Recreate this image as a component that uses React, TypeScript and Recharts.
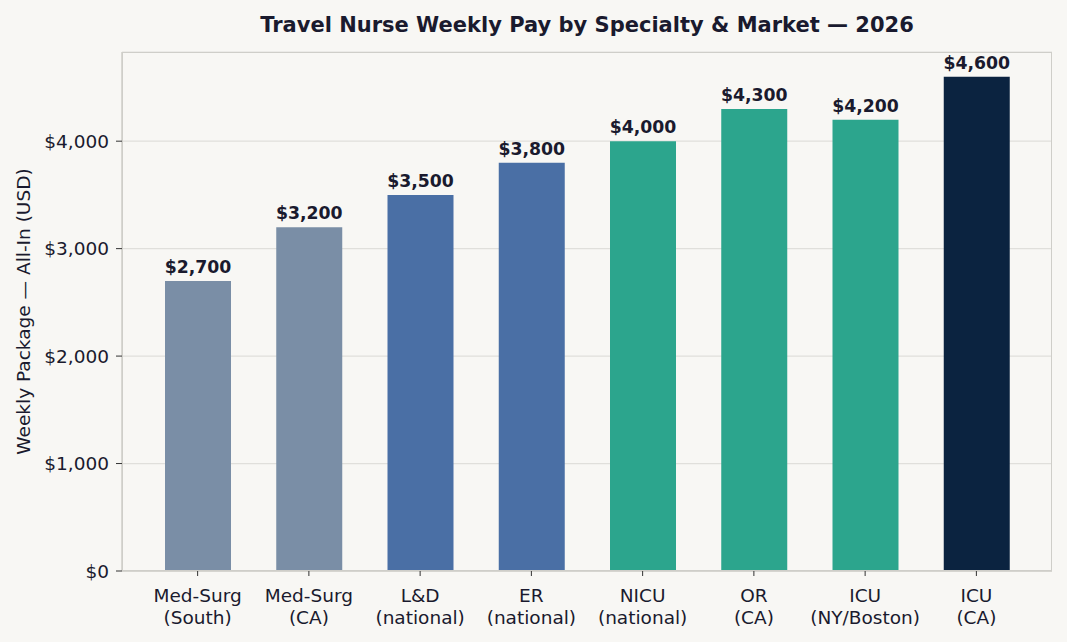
import { BarChart, Bar, XAxis, YAxis, CartesianGrid, Cell, LabelList } from 'recharts';

const specialties = ['Med-Surg', 'Med-Surg', 'L&D', 'ER', 'NICU', 'OR', 'ICU', 'ICU'];
const markets = ['(South)', '(CA)', '(national)', '(national)', '(national)', '(CA)', '(NY/Boston)', '(CA)'];
const weeklyPay = [2700, 3200, 3500, 3800, 4000, 4300, 4200, 4600];
const barColors = ['#7a8ea6', '#7a8ea6', '#4a6fa5', '#4a6fa5', '#2ca58d', '#2ca58d', '#2ca58d', '#0b2340'];
const yTicks = [0, 1000, 2000, 3000, 4000];

const data = weeklyPay.map((pay, i) => ({
  name: `${specialties[i]} ${markets[i]}`,
  pay,
}));

const ink = '#1a1a2e';
const font = 'DejaVu Sans, sans-serif';
const money = (v: number) => '$' + v.toLocaleString('en-US');

const TwoLineTick = (props: any) => {
  const { x, y, payload } = props;
  const i = data.findIndex((d) => d.name === payload.value);
  return (
    <g transform={`translate(${x},${y})`}>
      <text textAnchor='middle' fill={ink} fontSize={18.5} fontFamily={font}>
        <tspan x={0} dy={24}>{specialties[i]}</tspan>
        <tspan x={0} dy={22}>{markets[i]}</tspan>
      </text>
    </g>
  );
};

export default function App() {
  return (
    <div
      style={{
        position: 'absolute',
        left: 0,
        top: 0,
        width: 1067,
        height: 642,
        background: '#f8f7f4',
        fontFamily: font,
      }}
    >
      <div
        style={{
          position: 'absolute',
          left: 122,
          width: 930,
          top: 13,
          textAlign: 'center',
          fontSize: 21,
          fontWeight: 'bold',
          color: ink,
        }}
      >
        Travel Nurse Weekly Pay by Specialty &amp; Market — 2026
      </div>
      <BarChart
        width={1067}
        height={642}
        data={data}
        margin={{ top: 52, right: 15, left: 22, bottom: 21 }}
      >
        <CartesianGrid vertical={false} stroke='#e0dfdb' strokeWidth={1.2} />
        <XAxis
          dataKey='name'
          interval={0}
          height={50}
          padding={{ left: 20, right: 20 }}
          tick={<TwoLineTick />}
          tickSize={5}
          tickLine={{ stroke: '#333' }}
          axisLine={{ stroke: '#cfcec9', strokeWidth: 1.5 }}
        />
        <YAxis
          width={100}
          domain={[0, 4830]}
          ticks={yTicks}
          allowDataOverflow
          tickFormatter={money}
          tickSize={6}
          tickMargin={7}
          tick={{ fill: ink, fontSize: 18.5, fontFamily: font }}
          tickLine={{ stroke: '#333' }}
          axisLine={{ stroke: '#cfcec9', strokeWidth: 1.5 }}
          label={{
            value: 'Weekly Package — All-In (USD)',
            angle: -90,
            position: 'insideLeft',
            offset: 0,
            dx: 1,
            style: { textAnchor: 'middle', fill: ink, fontSize: 18.5, fontFamily: font },
          }}
        />
        <Bar dataKey='pay' barSize={66} isAnimationActive={false}>
          {data.map((d, i) => (
            <Cell key={d.name + i} fill={barColors[i]} />
          ))}
          <LabelList
            dataKey='pay'
            position='top'
            offset={8}
            formatter={(v: any) => money(Number(v))}
            style={{ fill: ink, fontSize: 17.3, fontWeight: 'bold', fontFamily: font }}
          />
        </Bar>
      </BarChart>
      {/* plot frame */}
      <div
        style={{
          position: 'absolute',
          left: 122,
          top: 52,
          width: 930,
          height: 519,
          border: '1.5px solid #cfcec9',
          boxSizing: 'border-box',
          pointerEvents: 'none',
        }}
      />
    </div>
  );
}
